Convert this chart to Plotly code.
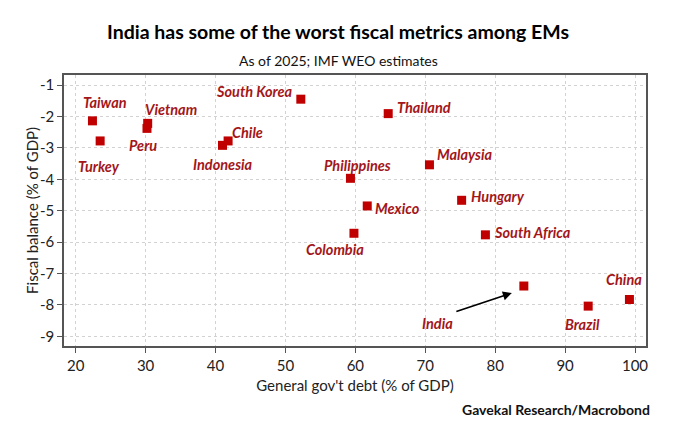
import plotly.graph_objects as go

# IMF WEO 2025 estimates
countries = ["Taiwan", "Turkey", "Vietnam", "Peru", "Indonesia", "Chile",
             "South Korea", "Thailand", "Philippines", "Malaysia", "Hungary",
             "Mexico", "Colombia", "South Africa", "India", "Brazil", "China"]
debt = [22.4, 23.5, 30.3, 30.2, 41.0, 41.8,
        52.2, 64.7, 59.3, 70.6, 75.2,
        61.7, 59.8, 78.6, 84.1, 93.3, 99.2]
balance = [-2.14, -2.78, -2.22, -2.38, -2.92, -2.78,
           -1.45, -1.91, -3.97, -3.54, -4.67,
           -4.85, -5.72, -5.77, -7.40, -8.04, -7.83]

x_ticks = [20, 30, 40, 50, 60, 70, 80, 90, 100]
y_ticks = [-1, -2, -3, -4, -5, -6, -7, -8, -9]

# label placement relative to each marker: (xanchor, xshift, yshift)
label_pos = {
    "Taiwan": ("center", 13, 18),
    "Turkey": ("center", -1, -26),
    "Vietnam": ("center", 23, 14),
    "Peru": ("center", -4, -17),
    "Indonesia": ("center", 0, -19),
    "Chile": ("center", 19, 8),
    "South Korea": ("right", -6, 8),
    "Thailand": ("left", 7, 6),
    "Philippines": ("center", 7, 13),
    "Malaysia": ("left", 6, 10),
    "Hungary": ("left", 7, 4),
    "Mexico": ("left", 6, -3),
    "Colombia": ("center", -19, -16),
    "South Africa": ("left", 7, 2),
    "India": ("center", -86, -37),
    "Brazil": ("center", -6, -18),
    "China": ("center", -5, 20),
}

label_font = dict(family="Lato", size=14.5, color="#a3161a")
text_font = "Lato"

fig = go.Figure()
fig.add_trace(go.Scatter(
    x=debt, y=balance, mode="markers",
    marker=dict(symbol="square", size=9, color="#c00000"),
    hoverinfo="text", text=countries, showlegend=False,
))

for name, xv, yv in zip(countries, debt, balance):
    anchor, dx, dy = label_pos[name]
    fig.add_annotation(
        x=xv, y=yv, text="<b><i>" + name + "</i></b>", showarrow=False,
        xanchor=anchor, yanchor="middle", xshift=dx, yshift=dy, font=label_font,
    )

# arrow pointing at India
i = countries.index("India")
fig.add_annotation(
    x=debt[i], y=balance[i], text="", showarrow=True,
    xshift=-12, yshift=-7, ax=-57, ay=19,
    arrowhead=2, arrowsize=1, arrowwidth=1.8, arrowcolor="black",
)

# titles and source note
fig.add_annotation(
    x=0.471, y=1.16, xref="paper", yref="paper", showarrow=False,
    yanchor="middle",
    text="<b>India has some of the worst fiscal metrics among EMs</b>",
    font=dict(family=text_font, size=19.5, color="black"),
)
fig.add_annotation(
    x=0.471, y=1.055, xref="paper", yref="paper", showarrow=False,
    yanchor="middle", text="As of 2025; IMF WEO estimates",
    font=dict(family=text_font, size=14, color="#111"),
)
fig.add_annotation(
    x=1.01, y=-0.234, xref="paper", yref="paper", showarrow=False,
    xanchor="right", yanchor="middle",
    text="<b>Gavekal Research/Macrobond</b>",
    font=dict(family=text_font, size=14, color="#111"),
)
fig.add_annotation(
    x=-0.056, y=0.5, xref="paper", yref="paper", showarrow=False,
    textangle=-90, xanchor="center", yanchor="middle",
    text="Fiscal balance (% of GDP)",
    font=dict(family=text_font, size=15, color="#222"),
)

axis_common = dict(
    showline=True, linecolor="#555", linewidth=1.5, mirror=True,
    showgrid=True, gridcolor="#d2d2d2", griddash="dot", gridwidth=1,
    ticks="outside", ticklen=5, tickcolor="#555",
    tickfont=dict(family=text_font, size=15, color="#222"),
    zeroline=False, automargin=False,
)

fig.update_xaxes(
    range=[18.33, 101.57], tickvals=x_ticks,
    title=dict(text="General gov't debt (% of GDP)", standoff=8,
               font=dict(family=text_font, size=15, color="#222")),
    **axis_common,
)
fig.update_yaxes(
    range=[-9.31, -0.68], tickvals=y_ticks,
    ticktext=[str(v) for v in y_ticks],
    **axis_common,
)

# the page body adds an 8px offset, so margins are shifted to compensate
fig.update_layout(
    width=680, height=431,
    margin=dict(l=56, r=42, t=67, b=93, autoexpand=False),
    plot_bgcolor="white", paper_bgcolor="white",
)

fig.write_html("out.html")
